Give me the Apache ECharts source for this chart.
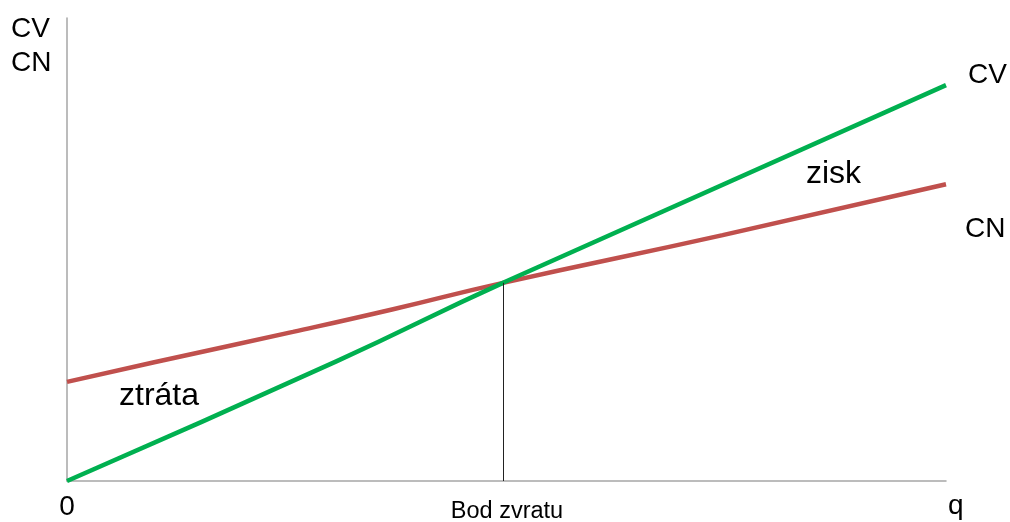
<!DOCTYPE html>
<html>
<head>
<meta charset="utf-8">
<script src="https://cdn.jsdelivr.net/npm/echarts@6/dist/echarts.min.js"></script>
<style>
  html, body { margin: 0; padding: 0; background: #fff; }
  #chart { width: 1010px; height: 522px; }
</style>
</head>
<body>
<div id="chart"></div>
<script>
// Break-even chart: total revenue (CV) vs total costs (CN) over quantity q
const cvQ    = [0, 30.7, 49.6, 100];
const cvCost = [0, 25.9, 42.8, 85.5];
const cnQ    = [0, 9.8, 25.7, 37.1, 49.6, 74.6, 100];
const cnCost = [21.4, 25.6, 32.2, 37.1, 42.8, 53.1, 64.1];
const breakEvenQ = 49.6;
const breakEvenCost = 42.8;
const xTickValues = [0, breakEvenQ];
const xTickLabels = ['0', 'Bod zvratu'];

const FONT = "'Liberation Sans', Arial, sans-serif";
const GREEN = '#00b050';
const RED = '#c0504d';
const AXIS = '#a6a6a6';

const zip = (xs, ys) => xs.map((x, i) => [x, ys[i]]);

const chart = echarts.init(document.getElementById('chart'), null, { renderer: 'canvas' });

chart.setOption({
  animation: false,
  backgroundColor: '#fff',
  grid: { left: 67, right: 64, top: 18, bottom: 41, outerBoundsMode: 'none', containLabel: false },
  xAxis: {
    type: 'value',
    min: 0,
    max: 100,
    name: 'q',
    nameLocation: 'end',
    nameGap: 2,
    nameTextStyle: { fontFamily: FONT, fontSize: 28, color: '#000', verticalAlign: 'top', padding: [11, 0, 0, 0] },
    axisLine: { show: true, lineStyle: { color: AXIS, width: 1.5 } },
    axisTick: { show: false },
    splitLine: { show: false },
    axisLabel: {
      customValues: xTickValues,
      margin: 10,
      color: '#000',
      fontFamily: FONT,
      formatter: (v) => {
        const i = xTickValues.indexOf(v);
        return i === 0 ? '{zero|' + xTickLabels[0] + '}' : '{bod|' + xTickLabels[1] + '}';
      },
      rich: {
        zero: { fontFamily: FONT, fontSize: 28, color: '#000', lineHeight: 32 },
        bod: { fontFamily: FONT, fontSize: 23.5, color: '#000', lineHeight: 41, padding: [0, 0, 0, 8] }
      }
    }
  },
  yAxis: {
    type: 'value',
    min: 0,
    max: 100,
    axisLine: { show: true, lineStyle: { color: AXIS, width: 1.5 } },
    axisTick: { show: false },
    axisLabel: { show: false },
    splitLine: { show: false }
  },
  graphic: [
    { type: 'text', left: 11, top: 12, style: { text: 'CV\nCN', font: '28px ' + FONT, fill: '#000', lineHeight: 34 } },
    { type: 'text', left: 119, top: 380, style: { text: 'ztráta', font: '32px ' + FONT, fill: '#000' } },
    { type: 'text', left: 806, top: 158, style: { text: 'zisk', font: '32px ' + FONT, fill: '#000' } }
  ],
  series: [
    {
      name: 'CV',
      type: 'line',
      data: zip(cvQ, cvCost),
      showSymbol: false,
      smooth: true,
      lineStyle: { color: GREEN, width: 4.5 },
      itemStyle: { color: GREEN },
      endLabel: {
        show: true,
        formatter: 'CV',
        fontFamily: FONT,
        fontSize: 28,
        color: '#000',
        offset: [14, -10]
      },
      z: 3
    },
    {
      name: 'CN',
      type: 'line',
      data: zip(cnQ, cnCost),
      showSymbol: false,
      smooth: true,
      lineStyle: { color: RED, width: 4.5 },
      itemStyle: { color: RED },
      endLabel: {
        show: true,
        formatter: 'CN',
        fontFamily: FONT,
        fontSize: 28,
        color: '#000',
        offset: [11, 45]
      },
      markLine: {
        silent: true,
        symbol: 'none',
        label: { show: false },
        lineStyle: { color: '#222', width: 1, type: 'solid' },
        data: [[
          { coord: [breakEvenQ, 0] },
          { coord: [breakEvenQ, breakEvenCost] }
        ]]
      },
      z: 2
    }
  ]
});
</script>
</body>
</html>
